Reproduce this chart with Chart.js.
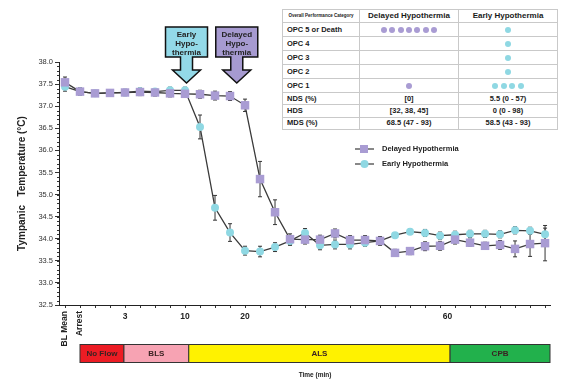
<!DOCTYPE html>
<html>
<head>
<meta charset="utf-8">
<script src="https://cdn.jsdelivr.net/npm/chart.js@4.4.1/dist/chart.umd.min.js"></script>
<style>
body { margin: 0; background: #fff; font-family: 'Liberation Sans', Arial, sans-serif; }
#wrap { position: relative; width: 566px; height: 392px; }
#opc { position: absolute; left: 282px; top: 9px; width: 275px; border-collapse: collapse; table-layout: fixed;
       font-size: 7.5px; font-weight: bold; color: #1a1a1a; background: #fff; }
#opc td { border: 1px solid #c9c9c9; padding: 0 4px; box-sizing: border-box; white-space: nowrap; line-height: 1; }
#opc td.c { text-align: center; }
#opc tr.hd td { height: 13px; font-size: 8px; text-align: center; }
#opc tr.hd td.tiny { font-size: 4.5px; text-align: center; }
#opc tr.o td { height: 14px; }
#opc tr.s td { height: 12.3px; }
#opc tr.thick td { border-top: 1.5px solid #666; }
.dot { display: inline-block; width: 6px; height: 6px; border-radius: 50%; margin: 0 1.2px; vertical-align: middle; }
</style>
</head>
<body>
<div id="wrap">
  <canvas id="chart" width="566" height="392"></canvas>
  <table id="opc"></table>
</div>
<script>
// time points (index on the axis), 33 readings
var idx = [0,1,2,3,4,5,6,7,8,9,10,11,12,13,14,15,16,17,18,19,20,21,22,23,24,25,26,27,28,29,30,31,32];

var delayed = [37.54, 37.33, 37.29, 37.30, 37.31, 37.32, 37.31, 37.29, 37.28, 37.27, 37.24, 37.23, 37.02, 35.35, 34.60,
               33.99, 33.98, 33.98, 34.12, 33.97, 33.97, 33.95, 33.68, 33.72, 33.83, 33.84, 33.98, 33.91, 33.84, 33.86,
               33.77, 33.88, 33.90];
var delayedErr = [0.12, 0.08, 0.06, 0.06, 0.07, 0.08, 0.08, 0.08, 0.08, 0.09, 0.10, 0.10, 0.14, 0.40, 0.28,
                  0.12, 0.10, 0.10, 0.10, 0.10, 0.10, 0.10, 0.08, 0.08, 0.10, 0.10, 0.10, 0.08, 0.08, 0.10,
                  0.18, 0.28, 0.40];

var early = [37.44, 37.33, 37.29, 37.30, 37.31, 37.34, 37.33, 37.36, 37.36, 36.53, 34.70, 34.14, 33.73, 33.71, 33.81,
             33.95, 34.13, 33.85, 33.87, 33.87, 33.91, 33.95, 34.08, 34.16, 34.13, 34.07, 34.09, 34.11, 34.11, 34.10,
             34.19, 34.18, 34.10];
var earlyErr = [0.10, 0.08, 0.06, 0.06, 0.07, 0.07, 0.07, 0.07, 0.07, 0.27, 0.28, 0.20, 0.10, 0.12, 0.10,
                0.10, 0.10, 0.10, 0.10, 0.10, 0.08, 0.08, 0.06, 0.06, 0.08, 0.08, 0.08, 0.08, 0.08, 0.08,
                0.08, 0.08, 0.14];

// x axis labels
var xNumPos = [4, 8, 12, 25.5];
var xNumText = ['3', '10', '20', '60'];
var xRotPos = [0, 1];
var xRotText = ['BL Mean', 'Arrest'];

// phases under the axis
var phaseNames = ['No Flow', 'BLS', 'ALS', 'CPB'];
var phaseEdges = [1, 3.93, 8.25, 25.67, 32.33];
var phaseColors = ['#ec1c24', '#f7a3b3', '#fff200', '#22b14c'];

// callouts
var calloutPos = [8.1, 11.45];
var calloutText = [['Early', 'Hypo-', 'thermia'], ['Delayed', 'Hypo-', 'thermia']];
var calloutColors = ['#93d9e8', '#a69ad0'];

// outcome table
var opcRows = ['OPC 5 or Death', 'OPC 4', 'OPC 3', 'OPC 2', 'OPC 1'];
var delayedOpc = [7, 0, 0, 0, 1];
var earlyOpc = [1, 1, 1, 1, 4];
var scoreRows = ['NDS (%)', 'HDS', 'MDS (%)'];
var delayedScores = ['[0]', '[32, 38, 45]', '68.5 (47 - 93)'];
var earlyScores = ['5.5 (0 - 57)', '0 (0 - 98)', '58.5 (43 - 93)'];

var purple = '#a99cd3';
var cyan = '#8fd8e3';
var FONT = "'Liberation Sans', Arial, sans-serif";

// build table
function dots(n, col) {
    var s = '';
    for (var i = 0; i < n; i++) s += '<span class="dot" style="background:' + col + '"></span>';
    return s;
}
var html = '<colgroup><col style="width:77px"><col style="width:99px"><col style="width:99px"></colgroup>';
html += '<tr class="hd"><td class="tiny">Overall Performance Category</td><td>Delayed Hypothermia</td><td>Early Hypothermia</td></tr>';
for (var r = 0; r < opcRows.length; r++) {
    html += '<tr class="o"><td>' + opcRows[r] + '</td><td class="c">' + dots(delayedOpc[r], purple) +
            '</td><td class="c">' + dots(earlyOpc[r], cyan) + '</td></tr>';
}
for (var r = 0; r < scoreRows.length; r++) {
    var cls = (r === 0 || r === 2) ? 's thick' : 's';
    html += '<tr class="' + cls + '"><td>' + scoreRows[r] + '</td><td class="c">' + delayedScores[r] +
            '</td><td class="c">' + earlyScores[r] + '</td></tr>';
}
document.getElementById('opc').innerHTML = html;

var errs = [delayedErr, earlyErr];

var errorBars = {
    id: 'errorBars',
    beforeDatasetsDraw: function(chart) {
        var c = chart.ctx, x = chart.scales.x, y = chart.scales.y;
        c.save();
        c.strokeStyle = '#333';
        c.lineWidth = 1;
        chart.data.datasets.forEach(function(ds, d) {
            ds.data.forEach(function(pt, i) {
                var px = x.getPixelForValue(pt.x);
                var y1 = y.getPixelForValue(pt.y + errs[d][i]);
                var y2 = y.getPixelForValue(pt.y - errs[d][i]);
                c.beginPath();
                c.moveTo(px, y1); c.lineTo(px, y2);
                c.moveTo(px - 2, y1); c.lineTo(px + 2, y1);
                c.moveTo(px - 2, y2); c.lineTo(px + 2, y2);
                c.stroke();
            });
        });
        c.restore();
    }
};

var decor = {
    id: 'decor',
    afterDraw: function(chart) {
        var c = chart.ctx, x = chart.scales.x, y = chart.scales.y, a = chart.chartArea;
        c.save();
        // minor y ticks
        c.strokeStyle = '#333';
        c.lineWidth = 1;
        for (var v = 32.5; v <= 38.001; v += 0.1) {
            var py = Math.round(y.getPixelForValue(v)) + 0.5;
            c.beginPath(); c.moveTo(a.left - 2, py); c.lineTo(a.left, py); c.stroke();
        }
        // x labels
        c.fillStyle = '#222';
        c.font = 'bold 8.5px ' + FONT;
        c.textAlign = 'center';
        c.textBaseline = 'middle';
        xNumPos.forEach(function(p, i) { c.fillText(xNumText[i], x.getPixelForValue(p), 317); });
        xRotPos.forEach(function(p, i) {
            c.save();
            c.translate(x.getPixelForValue(p), 311);
            c.rotate(-Math.PI / 2);
            c.textAlign = 'right';
            c.fillText(xRotText[i], 0, 0);
            c.restore();
        });
        // phase bar
        for (var k = 0; k < phaseNames.length; k++) {
            var x0 = x.getPixelForValue(phaseEdges[k]), x1 = x.getPixelForValue(phaseEdges[k + 1]);
            c.fillStyle = phaseColors[k];
            c.fillRect(x0, 344.5, x1 - x0, 18);
            c.strokeStyle = '#333';
            c.strokeRect(x0, 344.5, x1 - x0, 18);
            c.fillStyle = '#3a2222';
            c.font = 'bold 8px ' + FONT;
            c.fillText(phaseNames[k], (x0 + x1) / 2, 353.5);
        }
        c.fillStyle = '#222';
        c.font = 'bold 6.5px ' + FONT;
        c.fillText('Time (min)', (x.getPixelForValue(phaseEdges[0]) + x.getPixelForValue(phaseEdges[4])) / 2, 375);
        // callouts
        calloutPos.forEach(function(p, i) {
            var cx = x.getPixelForValue(p), top = 27, w = 42, h = 30, sw = 12, hw = 28, se = 70, tip = 83;
            c.beginPath();
            c.moveTo(cx - w / 2, top); c.lineTo(cx + w / 2, top); c.lineTo(cx + w / 2, top + h);
            c.lineTo(cx + sw / 2, top + h); c.lineTo(cx + sw / 2, se); c.lineTo(cx + hw / 2, se);
            c.lineTo(cx, tip); c.lineTo(cx - hw / 2, se); c.lineTo(cx - sw / 2, se);
            c.lineTo(cx - sw / 2, top + h); c.lineTo(cx - w / 2, top + h); c.closePath();
            c.fillStyle = calloutColors[i];
            c.fill();
            c.strokeStyle = '#111';
            c.lineWidth = 1.5;
            c.stroke();
            c.fillStyle = '#222';
            c.font = 'bold 8px ' + FONT;
            calloutText[i].forEach(function(t, j) { c.fillText(t, cx, 35 + j * 9); });
        });
        // legend
        c.textAlign = 'left';
        c.font = 'bold 7.5px ' + FONT;
        chart.data.datasets.forEach(function(ds, d) {
            var ly = 149 + d * 15;
            c.strokeStyle = ds.borderColor; c.lineWidth = 1.2;
            c.beginPath(); c.moveTo(355, ly); c.lineTo(374, ly); c.stroke();
            c.fillStyle = ds.pointBackgroundColor;
            if (ds.pointStyle === 'rect') c.fillRect(360, ly - 4, 8, 8);
            else { c.beginPath(); c.arc(364.5, ly, 4, 0, Math.PI * 2); c.fill(); }
            c.fillStyle = '#222';
            c.fillText(ds.label, 382, ly);
        });
        c.restore();
    }
};

var ctx = document.getElementById('chart').getContext('2d');
var myChart = new Chart(ctx, {
    type: 'line',
    data: {
        datasets: [{
            label: 'Delayed Hypothermia',
            data: idx.map(function(v, i) { return { x: v, y: delayed[i] }; }),
            borderColor: '#3a3a3a',
            borderWidth: 1.3,
            pointStyle: 'rect',
            pointRadius: 6,
            pointBackgroundColor: purple,
            pointBorderColor: purple,
            pointBorderWidth: 0
        }, {
            label: 'Early Hypothermia',
            data: idx.map(function(v, i) { return { x: v, y: early[i] }; }),
            borderColor: '#3a3a3a',
            borderWidth: 1.3,
            pointStyle: 'circle',
            pointRadius: 4,
            pointBackgroundColor: cyan,
            pointBorderColor: cyan,
            pointBorderWidth: 0
        }]
    },
    options: {
        responsive: false,
        animation: false,
        devicePixelRatio: 1,
        layout: { padding: { top: 62, right: 16, left: 0, bottom: 0 } },
        plugins: { legend: { display: false }, tooltip: { enabled: false } },
        scales: {
            x: {
                type: 'linear',
                min: -0.4,
                max: 32.33,
                afterBuildTicks: function(s) { s.ticks = idx.map(function(v) { return { value: v }; }); },
                afterFit: function(s) { s.height = 87; },
                ticks: { display: false },
                grid: { drawOnChartArea: false, tickLength: 3, color: '#333' },
                border: { color: '#222', width: 1 }
            },
            y: {
                min: 32.5,
                max: 38,
                afterFit: function(s) { s.width = 59; },
                ticks: { stepSize: 0.5, color: '#333', padding: 2, font: { size: 7.5, family: FONT } },
                grid: { drawOnChartArea: false, tickLength: 4, color: '#333' },
                border: { color: '#222', width: 1 },
                title: {
                    display: true,
                    text: 'Tympanic   Temperature (°C)',
                    color: '#222',
                    font: { size: 10, weight: 'bold', family: FONT },
                    padding: { top: 16, bottom: 0 }
                }
            }
        }
    },
    plugins: [errorBars, decor]
});
</script>
</body>
</html>
